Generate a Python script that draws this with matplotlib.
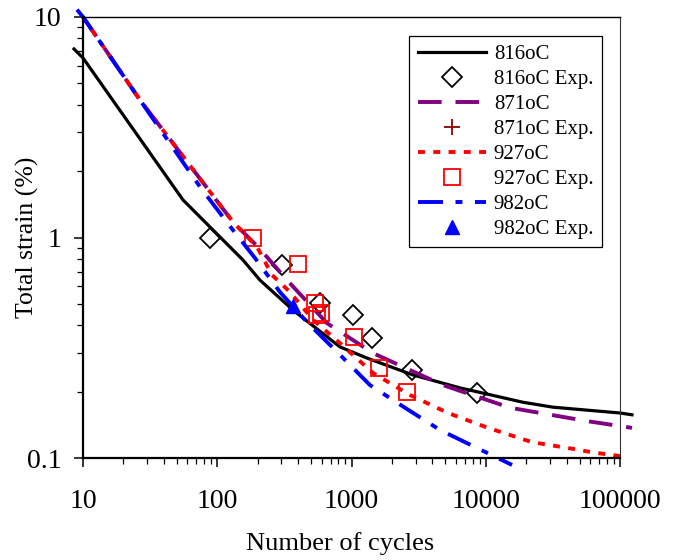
import matplotlib
matplotlib.use('Agg')
from matplotlib import pyplot as plt
from matplotlib.ticker import FixedLocator, LogLocator, NullFormatter

# Fatigue curves: total strain vs number of cycles
cycles_816 = [8.57, 10, 55.6, 155.6, 208, 366, 820, 1303, 2871, 6427, 18900, 31700, 100000, 122800]
strain_816 = [7.16, 6.52, 1.48, 0.79, 0.641, 0.469, 0.319, 0.284, 0.238, 0.208, 0.179, 0.170, 0.160, 0.157]

cycles_871 = [10, 26.6, 131, 208, 331, 656, 1445, 4810, 15200, 56800, 122800]
strain_871 = [10, 4.2, 1.176, 0.887, 0.641, 0.409, 0.299, 0.214, 0.169, 0.147, 0.137]

cycles_927 = [10, 26.6, 131, 198, 256, 348, 517, 820, 1445, 2729, 5236, 10400, 22100, 44700, 62900, 112700]
strain_927 = [10, 4.2, 1.176, 0.906, 0.676, 0.566, 0.423, 0.332, 0.243, 0.193, 0.160, 0.137, 0.118, 0.110, 0.106, 0.101]

cycles_982 = [9.02, 10, 26.6, 74.5, 131, 191, 293, 474, 780, 1374, 2500, 4560, 8610, 15700]
strain_982 = [10.8, 10, 4.2, 1.694, 1.08, 0.807, 0.566, 0.409, 0.303, 0.214, 0.169, 0.134, 0.111, 0.093]

# experimental points
exp_cycles_816 = [88.3, 304, 582, 1025, 1422, 2826, 8610]
exp_strain_816 = [1.0, 0.75, 0.505, 0.445, 0.35, 0.251, 0.197]
exp_cycles_871 = []
exp_strain_871 = []
exp_cycles_927 = [185, 399, 535, 553, 593, 1045, 1603, 2589]
exp_strain_927 = [1.0, 0.758, 0.505, 0.445, 0.455, 0.354, 0.256, 0.199]
exp_cycles_982 = [366]
exp_strain_982 = [0.49]

plt.rcParams['font.family'] = ['Liberation Serif', 'DejaVu Serif']
plt.rcParams['lines.scale_dashes'] = False

fig = plt.figure(figsize=(6.78, 5.6), dpi=100)
ax = fig.add_axes([83/678, 1-458/560, (620-83)/678, (458-17)/560])

ax.plot(cycles_816, strain_816, color='black', lw=2.3, clip_on=False, label='816oC')
ax.plot(exp_cycles_816, exp_strain_816, ls='none', marker='D', ms=10, mfc='none', mec='black', mew=1.3, label='816oC Exp.')
ax.plot(cycles_871, strain_871, color='purple', lw=2.8, dashes=(17, 10), clip_on=False, label='871oC')
ax.plot(exp_cycles_871, exp_strain_871, ls='none', marker='+', ms=12, mec='darkred', mew=1.3, label='871oC Exp.')
ax.plot(cycles_927, strain_927, color='red', lw=2.8, dashes=(5, 6), clip_on=False, label='927oC')
ax.plot(exp_cycles_927, exp_strain_927, ls='none', marker='s', ms=11.5, mfc='none', mec='red', mew=1.3, label='927oC Exp.')
ax.plot(cycles_982, strain_982, color='blue', lw=2.8, dashes=(18, 9, 5, 9), clip_on=False, label='982oC')
ax.plot(exp_cycles_982, exp_strain_982, ls='none', marker='^', ms=10, color='blue', label='982oC Exp.')

ax.set_xscale('log')
ax.set_yscale('log')
ax.set_xlim(10, 100000)
ax.set_ylim(0.1, 10)

ax.xaxis.set_major_locator(FixedLocator([10, 100, 1000, 10000, 100000]))
ax.set_xticklabels(['10', '100', '1000', '10000', '100000'])
ax.yaxis.set_major_locator(FixedLocator([0.1, 1, 10]))
ax.set_yticklabels(['0.1', '1', '10'])
ax.xaxis.set_minor_locator(LogLocator(base=10, subs=range(2, 10)))
ax.yaxis.set_minor_locator(LogLocator(base=10, subs=range(2, 10)))
ax.xaxis.set_minor_formatter(NullFormatter())
ax.yaxis.set_minor_formatter(NullFormatter())
ax.tick_params(which='major', direction='out', length=6.5, width=1.1, labelsize=20, top=False, right=False)
ax.tick_params(axis='x', which='major', pad=16)
ax.tick_params(axis='y', which='major', pad=9)
ax.tick_params(which='minor', direction='out', length=4.5, width=0.9, top=False, right=False)

ax.spines['left'].set_linewidth(1.6)
ax.spines['bottom'].set_linewidth(1.6)
ax.spines['top'].set_linewidth(1.0)
ax.spines['right'].set_linewidth(0.8)
ax.spines['right'].set_color('#333333')

# axis titles placed as figure text
fig.text(340/678, 1-544/560, 'Number of cycles', fontsize=19, ha='center', va='center')
fig.text(27/678, 1-237/560, 'Total strain (%)', fontsize=18.5, ha='center', va='center', rotation=90)

leg = ax.legend(loc='upper right', bbox_to_anchor=(0.966, 0.957), fontsize=15, frameon=True,
                fancybox=False, edgecolor='black', framealpha=1, handlelength=3.3,
                handletextpad=0.35, labelspacing=0.26, borderpad=0.4, borderaxespad=0)
leg.get_frame().set_linewidth(0.9)

fig.savefig('out.png', dpi=100)
